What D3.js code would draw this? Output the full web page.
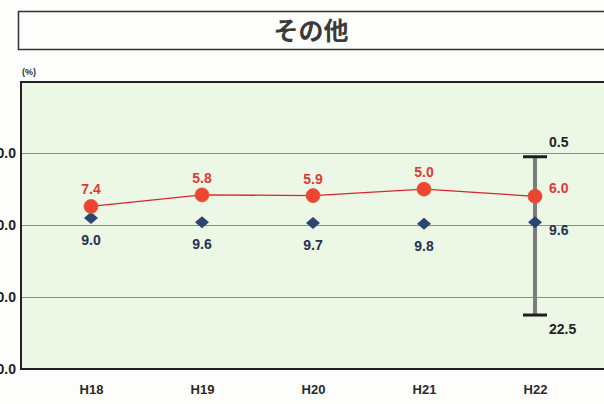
<!DOCTYPE html>
<html>
<head>
<meta charset="utf-8">
<script src="https://cdn.jsdelivr.net/npm/d3@7"></script>
<style>
  html, body { margin: 0; padding: 0; background: #fdfdfb; }
  svg { display: block; }
</style>
</head>
<body>
<script>
// Survey years and the two series (percent), plus the range shown for the latest year
const years = ["H18", "H19", "H20", "H21", "H22"];
const redValues = [7.4, 5.8, 5.9, 5.0, 6.0];
const blueValues = [9.0, 9.6, 9.7, 9.8, 9.6];
const rangeLow = 0.5;
const rangeHigh = 22.5;
const yTicks = [0, 10, 20, 30];
const title = "その他";

const W = 604, H = 404;
const svg = d3.select("body").append("svg").attr("width", W).attr("height", H);

// Title box
svg.append("rect").attr("x", 18.5).attr("y", 11.5).attr("width", 600).attr("height", 38)
  .attr("fill", "#fdfdfb").attr("stroke", "#333").attr("stroke-width", 1.5);
svg.append("text").attr("x", 311).attr("y", 40).attr("text-anchor", "middle")
  .attr("font-family", "Noto Sans CJK JP").attr("font-weight", "bold").attr("font-size", 25)
  .attr("fill", "#3a3a3a").text(title);

// Plot area
const plot = { left: 21, top: 82, right: 620, bottom: 369 };
const y = d3.scaleLinear().domain([-10, 30]).range([plot.top - 0.8, plot.bottom]);
const x = d3.scalePoint().domain(years).range([91, 535]);

svg.append("rect").attr("x", plot.left).attr("y", plot.top)
  .attr("width", plot.right - plot.left).attr("height", plot.bottom - plot.top)
  .attr("fill", "#edf7e5");

// Horizontal gridlines
svg.append("g").selectAll("line").data(yTicks.slice(0, -1)).join("line")
  .attr("x1", plot.left).attr("x2", plot.right)
  .attr("y1", d => Math.round(y(d)) + 0.5).attr("y2", d => Math.round(y(d)) + 0.5)
  .attr("stroke", "#8a8f86").attr("stroke-width", 1);

// Frame
svg.append("path")
  .attr("d", `M${plot.right},${plot.top}H${plot.left}V${plot.bottom}H${plot.right}`)
  .attr("fill", "none").attr("stroke", "#222").attr("stroke-width", 2);

// Y axis labels (reversed scale: larger values lower)
const yAxis = d3.axisLeft(y).tickValues(yTicks).tickSize(0).tickPadding(5)
  .tickFormat(d3.format(".1f"));
const yg = svg.append("g").attr("transform", `translate(${plot.left},0)`).call(yAxis);
yg.select(".domain").remove();
yg.selectAll("text").attr("font-family", "Liberation Sans").attr("font-weight", "bold")
  .attr("font-size", 14).attr("fill", "#222");

svg.append("text").attr("x", 22).attr("y", 75)
  .attr("font-family", "Liberation Sans").attr("font-size", 9).attr("font-weight", "bold")
  .attr("fill", "#333").text("(%)");

// X axis labels
const xAxis = d3.axisBottom(x).tickSize(0).tickPadding(16);
const xg = svg.append("g").attr("transform", `translate(0,${plot.bottom})`).call(xAxis);
xg.select(".domain").remove();
xg.selectAll("text").attr("font-family", "Liberation Sans").attr("font-weight", "bold")
  .attr("font-size", 13).attr("fill", "#2a2a2a");

const last = years[years.length - 1];

// Range bar for the latest year
svg.append("line").attr("x1", x(last)).attr("x2", x(last))
  .attr("y1", y(rangeLow)).attr("y2", y(rangeHigh))
  .attr("stroke", "#7b7d7a").attr("stroke-width", 4);
svg.append("g").selectAll("line").data([rangeLow, rangeHigh]).join("line")
  .attr("x1", x(last) - 12).attr("x2", x(last) + 12)
  .attr("y1", d => y(d)).attr("y2", d => y(d))
  .attr("stroke", "#1e1e1e").attr("stroke-width", 3);

const labelFont = sel => sel.attr("font-family", "Liberation Sans").attr("font-weight", "bold").attr("font-size", 14);

svg.append("text").call(labelFont).attr("x", x(last) + 14).attr("y", y(rangeLow) - 10)
  .attr("fill", "#222").text(rangeLow.toFixed(1));
svg.append("text").call(labelFont).attr("x", x(last) + 14).attr("y", y(rangeHigh) + 19)
  .attr("fill", "#222").text(rangeHigh.toFixed(1));

// Red series line and markers
const redPts = years.map((d, i) => ({ year: d, v: redValues[i] }));
const bluePts = years.map((d, i) => ({ year: d, v: blueValues[i] }));

svg.append("path").datum(redPts)
  .attr("d", d3.line().x(d => x(d.year)).y(d => y(d.v)))
  .attr("fill", "none").attr("stroke", "#d8262c").attr("stroke-width", 1.3);

// Blue diamonds
svg.append("g").selectAll("path").data(bluePts).join("path")
  .attr("transform", d => `translate(${x(d.year)},${y(d.v)})`)
  .attr("d", "M0,-6L7,0L0,6L-7,0Z")
  .attr("fill", "#2c4470");

svg.append("g").selectAll("circle").data(redPts).join("circle")
  .attr("cx", d => x(d.year)).attr("cy", d => y(d.v)).attr("r", 7)
  .attr("fill", "#ee4530").attr("stroke", "#e2573f").attr("stroke-width", 0.8);

// Value labels
svg.append("g").selectAll("text").data(redPts).join("text").call(labelFont)
  .attr("x", d => d.year === last ? x(d.year) + 14 : x(d.year))
  .attr("y", d => d.year === last ? y(d.v) - 3 : y(d.v) - 12)
  .attr("text-anchor", d => d.year === last ? "start" : "middle")
  .attr("fill", "#dd3a36").text(d => d.v.toFixed(1));

svg.append("g").selectAll("text").data(bluePts).join("text").call(labelFont)
  .attr("x", d => d.year === last ? x(d.year) + 14 : x(d.year))
  .attr("y", d => d.year === last ? y(d.v) + 13 : y(d.v) + 27)
  .attr("text-anchor", d => d.year === last ? "start" : "middle")
  .attr("fill", "#24344f").text(d => d.v.toFixed(1));
</script>
</body>
</html>
